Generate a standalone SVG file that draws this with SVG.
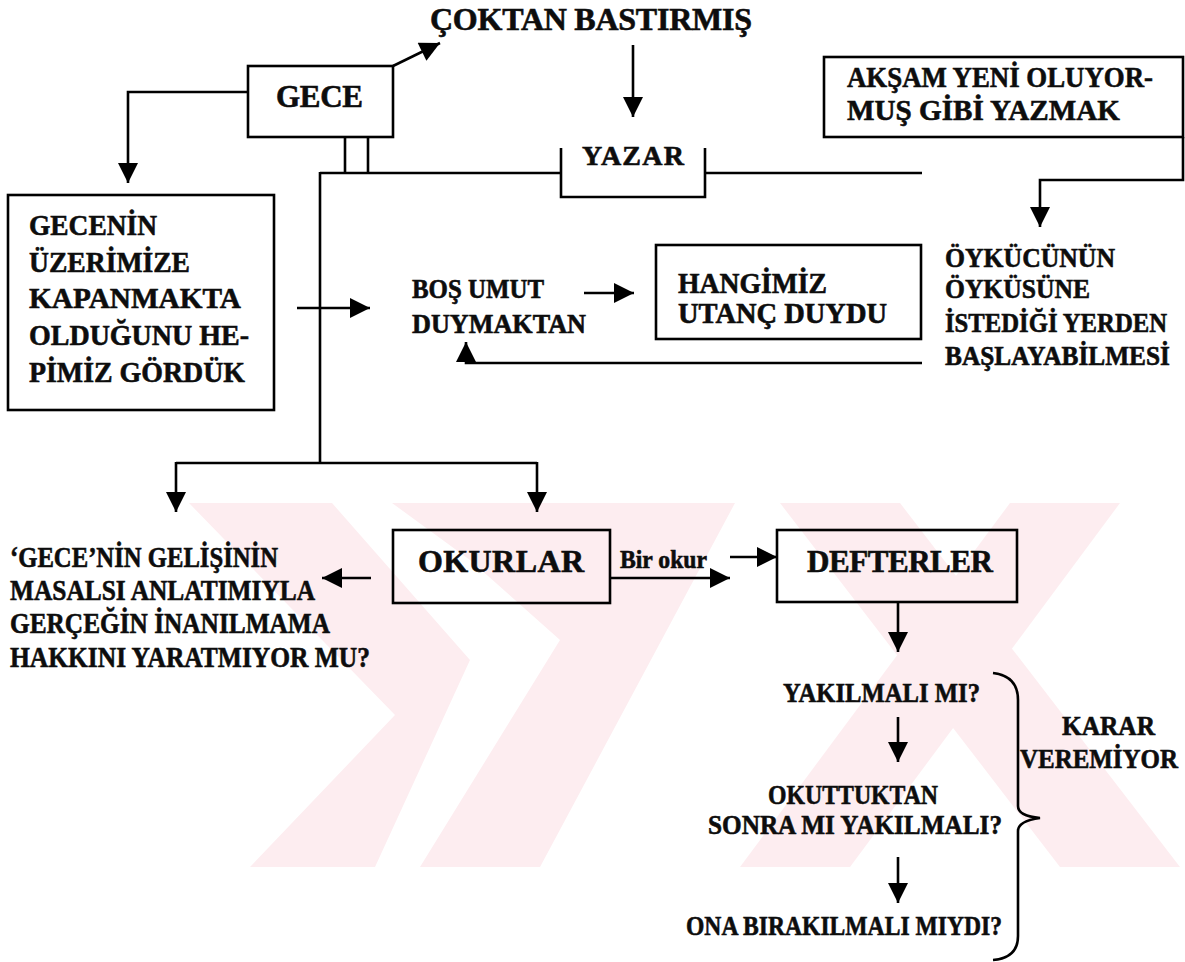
<svg xmlns="http://www.w3.org/2000/svg" width="1185" height="962" viewBox="0 0 1185 962">
  <defs>
    <marker id="ah" viewBox="0 0 10 10" refX="10" refY="5" markerWidth="22" markerHeight="20" markerUnits="userSpaceOnUse" orient="auto">
      <path d="M0,0 L10,5 L0,10 z" fill="#000"/>
    </marker>
    <style>
      .box { fill: none; stroke: #000; stroke-width: 2.6; }
      .ln { fill: none; stroke: #000; stroke-width: 2.6; }
      .arr { fill: none; stroke: #000; stroke-width: 2.6; marker-end: url(#ah); }
      .t { font-family: "Liberation Serif", "Times New Roman", serif; font-weight: bold; fill: #0d0d0d; stroke: #0d0d0d; stroke-width: 0.6; }
      .wm { fill: #fdedf0; }
    </style>
  </defs>
  <rect width="1185" height="962" fill="#fff"/>

  <!-- faint background emblem -->
  <g id="emblem">
    <polygon class="wm" points="189,503 332,503 470,660 375,867 250,867 395,715"/>
    <polygon class="wm" points="392,503 735,503 540,867 420,867 560,640 470,560"/>
    <polygon class="wm" points="780,503 900,503 1180,867 1060,867"/>
    <polygon class="wm" points="1010,503 1120,503 850,867 740,867"/>
  </g>

  <!-- connectors -->
  <g id="connectors">
    <line class="arr" x1="393" y1="66" x2="440" y2="43"/>
    <line class="arr" x1="633" y1="45" x2="633" y2="117"/>
    <polyline class="arr" points="248,92 128,92 128,183"/>
    <line class="ln" x1="345" y1="137" x2="345" y2="173"/>
    <line class="ln" x1="368" y1="137" x2="368" y2="173"/>
    <line class="ln" x1="320" y1="173" x2="561" y2="173"/>
    <line class="ln" x1="705" y1="173" x2="922" y2="173"/>
    <line class="ln" x1="320" y1="172" x2="320" y2="463"/>
    <line class="ln" x1="176" y1="463" x2="537" y2="463"/>
    <line class="arr" x1="176" y1="462" x2="176" y2="512"/>
    <line class="arr" x1="537" y1="462" x2="537" y2="512"/>
    <line class="arr" x1="297" y1="308" x2="370" y2="308"/>
    <line class="arr" x1="584" y1="293" x2="634" y2="293"/>
    <polyline class="arr" points="922,363 466,363 466,342"/>
    <polyline class="arr" points="1183,137 1183,180 1040,180 1040,227"/>
    <line class="arr" x1="371" y1="578" x2="322" y2="578"/>
    <line class="arr" x1="610" y1="578" x2="730" y2="578"/>
    <line class="arr" x1="730" y1="557" x2="777" y2="557"/>
    <line class="arr" x1="898" y1="602" x2="898" y2="652"/>
    <line class="arr" x1="898" y1="717" x2="898" y2="762"/>
    <line class="arr" x1="898" y1="857" x2="898" y2="903"/>
    <path class="ln" d="M993,673 Q1018,676 1018,700 L1018,806 Q1018,816 1040,818 Q1018,821 1018,831 L1018,936 Q1018,958 993,960"/>
  </g>

  <g id="n-coktan">
    <text class="t" x="430" y="30" font-size="32" textLength="322">ÇOKTAN BASTIRMIŞ</text>
  </g>

  <g id="n-gece">
    <rect class="box" x="248" y="66" width="145" height="71"/>
    <text class="t" x="276" y="107" font-size="31" textLength="87">GECE</text>
  </g>

  <g id="n-yazar">
    <path class="ln" d="M561,148 V197 H705 V148"/>
    <text class="t" x="582" y="165" font-size="28" textLength="102">YAZAR</text>
  </g>

  <g id="n-aksam">
    <rect class="box" x="824" y="57" width="359" height="80"/>
    <text class="t" x="847" y="87" font-size="30" textLength="306" lengthAdjust="spacingAndGlyphs">AKŞAM YENİ OLUYOR-</text>
    <text class="t" x="847" y="120" font-size="30" textLength="273" lengthAdjust="spacingAndGlyphs">MUŞ GİBİ YAZMAK</text>
  </g>

  <g id="n-gecenin">
    <rect class="box" x="8" y="195" width="266" height="215"/>
    <text class="t" x="29" y="235" font-size="30" textLength="128" lengthAdjust="spacingAndGlyphs">GECENİN</text>
    <text class="t" x="29" y="272" font-size="30" textLength="161" lengthAdjust="spacingAndGlyphs">ÜZERİMİZE</text>
    <text class="t" x="29" y="308" font-size="30" textLength="212" lengthAdjust="spacingAndGlyphs">KAPANMAKTA</text>
    <text class="t" x="29" y="345" font-size="30" textLength="220" lengthAdjust="spacingAndGlyphs">OLDUĞUNU HE-</text>
    <text class="t" x="29" y="382" font-size="30" textLength="216" lengthAdjust="spacingAndGlyphs">PİMİZ GÖRDÜK</text>
  </g>

  <g id="n-bos-umut">
    <text class="t" x="412" y="298" font-size="27" textLength="132" lengthAdjust="spacingAndGlyphs">BOŞ UMUT</text>
    <text class="t" x="412" y="333" font-size="27" textLength="174" lengthAdjust="spacingAndGlyphs">DUYMAKTAN</text>
  </g>

  <g id="n-hangimiz">
    <rect class="box" x="656" y="245" width="265" height="94"/>
    <text class="t" x="678" y="293" font-size="29" textLength="149" lengthAdjust="spacingAndGlyphs">HANGİMİZ</text>
    <text class="t" x="678" y="323" font-size="29" textLength="209" lengthAdjust="spacingAndGlyphs">UTANÇ DUYDU</text>
  </g>

  <g id="n-oykucu">
    <text class="t" x="945" y="267" font-size="28" textLength="170" lengthAdjust="spacingAndGlyphs">ÖYKÜCÜNÜN</text>
    <text class="t" x="945" y="298" font-size="28" textLength="145" lengthAdjust="spacingAndGlyphs">ÖYKÜSÜNE</text>
    <text class="t" x="945" y="332" font-size="28" textLength="222" lengthAdjust="spacingAndGlyphs">İSTEDİĞİ YERDEN</text>
    <text class="t" x="945" y="365" font-size="28" textLength="225" lengthAdjust="spacingAndGlyphs">BAŞLAYABİLMESİ</text>
  </g>

  <g id="n-gelisi">
    <text class="t" x="10" y="567" font-size="29" textLength="268" lengthAdjust="spacingAndGlyphs">‘GECE’NİN GELİŞİNİN</text>
    <text class="t" x="10" y="600" font-size="29" textLength="305" lengthAdjust="spacingAndGlyphs">MASALSI ANLATIMIYLA</text>
    <text class="t" x="10" y="633" font-size="29" textLength="320" lengthAdjust="spacingAndGlyphs">GERÇEĞİN İNANILMAMA</text>
    <text class="t" x="10" y="667" font-size="29" textLength="360" lengthAdjust="spacingAndGlyphs">HAKKINI YARATMIYOR MU?</text>
  </g>

  <g id="n-okurlar">
    <rect class="box" x="393" y="530" width="217" height="73"/>
    <text class="t" x="418" y="572" font-size="32" textLength="166">OKURLAR</text>
  </g>

  <g id="n-bir-okur">
    <text class="t" x="620" y="568" font-size="25" textLength="87" lengthAdjust="spacingAndGlyphs">Bir okur</text>
  </g>

  <g id="n-defterler">
    <rect class="box" x="777" y="530" width="240" height="72"/>
    <text class="t" x="807" y="572" font-size="31" textLength="186">DEFTERLER</text>
  </g>

  <g id="n-yakilmali">
    <text class="t" x="783" y="702" font-size="28" textLength="197" lengthAdjust="spacingAndGlyphs">YAKILMALI MI?</text>
  </g>

  <g id="n-okuttuktan">
    <text class="t" x="768" y="804" font-size="28" textLength="170" lengthAdjust="spacingAndGlyphs">OKUTTUKTAN</text>
    <text class="t" x="708" y="834" font-size="28" textLength="294" lengthAdjust="spacingAndGlyphs">SONRA MI YAKILMALI?</text>
  </g>

  <g id="n-ona">
    <text class="t" x="686" y="935" font-size="28" textLength="316" lengthAdjust="spacingAndGlyphs">ONA BIRAKILMALI MIYDI?</text>
  </g>

  <g id="n-karar">
    <text class="t" x="1062" y="735" font-size="27" textLength="93" lengthAdjust="spacingAndGlyphs">KARAR</text>
    <text class="t" x="1020" y="768" font-size="27" textLength="158" lengthAdjust="spacingAndGlyphs">VEREMİYOR</text>
  </g>
</svg>
